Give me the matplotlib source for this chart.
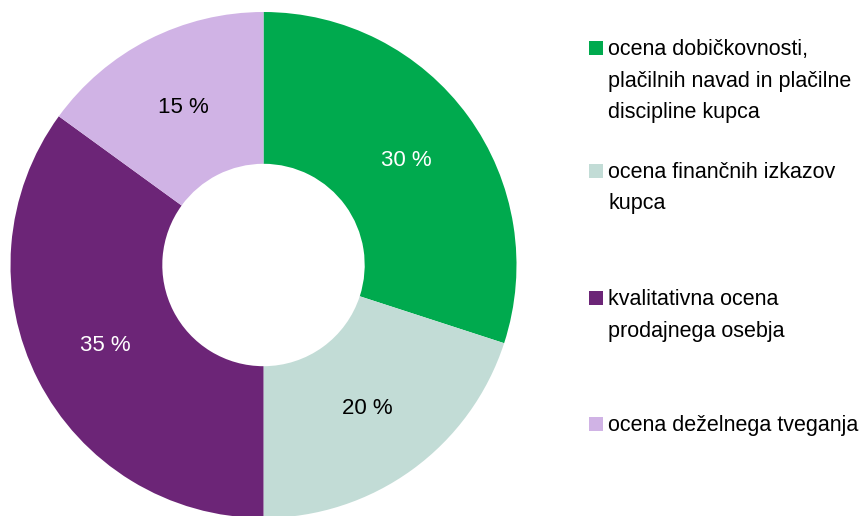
import matplotlib
matplotlib.use("Agg")
import matplotlib.pyplot as plt
from matplotlib.patches import Rectangle

categories = [
    "ocena dobičkovnosti,\nplačilnih navad in plačilne\ndiscipline kupca",
    "ocena finančnih izkazov\nkupca",
    "kvalitativna ocena\nprodajnega osebja",
    "ocena deželnega tveganja",
]
values = [30, 20, 35, 15]
colors = ["#00AA4E", "#C2DCD6", "#6C2577", "#D0B3E5"]
label_colors = ["white", "black", "white", "black"]

FONT = ["Liberation Sans", "DejaVu Sans"]
plt.rcParams["font.family"] = FONT

W, H = 864, 516
fig = plt.figure(figsize=(W / 100, H / 100), dpi=100)

cx, cy, r = 263.5, 265, 253
ax = fig.add_axes([(cx - r) / W, (H - cy - r) / H, 2 * r / W, 2 * r / H])

wedges, texts, autotexts = ax.pie(
    values,
    colors=colors,
    startangle=90,
    counterclock=False,
    radius=1,
    wedgeprops=dict(width=0.6, linewidth=0),
    autopct=lambda p: f"{p:.0f} %",
    pctdistance=0.7,
    textprops=dict(fontsize=16),
)
for t, c in zip(autotexts, label_colors):
    t.set_color(c)
ax.set_xlim(-1, 1)
ax.set_ylim(-1, 1)
ax.set_aspect("equal")
ax.axis("off")

# legend drawn manually
def fx(x):
    return x / W

def fy(y):
    return 1 - y / H

first_baselines = [55, 178, 305, 431]
line_step = 31.5
for lab, col, b0 in zip(categories, colors, first_baselines):
    fig.patches.append(Rectangle((fx(588.5), fy(b0)), 14 / W, 14 / H,
                                 transform=fig.transFigure, facecolor=col,
                                 edgecolor="none"))
    for i, line in enumerate(lab.split("\n")):
        fig.text(fx(608), fy(b0 + i * line_step), line, fontsize=15.5,
                 va="baseline", ha="left", color="black")

fig.savefig("out.png", dpi=100)
